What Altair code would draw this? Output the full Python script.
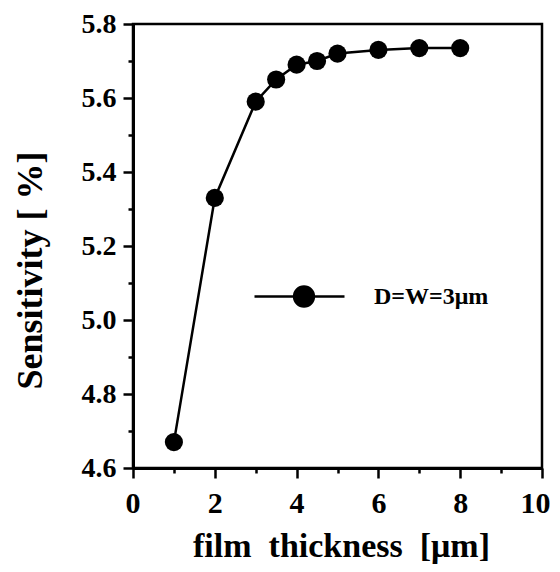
import altair as alt
import pandas as pd

# ---- data ----
thickness = [1, 2, 3, 3.5, 4, 4.5, 5, 6, 7, 8]
sensitivity = [4.67, 5.33, 5.59, 5.65, 5.69, 5.70, 5.72, 5.73, 5.735, 5.735]
series_name = "D=W=3μm"
x_major = [0, 2, 4, 6, 8, 10]
x_minor = [1, 3, 5, 7, 9]
y_major = [4.6, 4.8, 5.0, 5.2, 5.4, 5.6, 5.8]
y_minor = [4.7, 4.9, 5.1, 5.3, 5.5, 5.7]
x_title = "film\u00a0\u00a0thickness\u00a0\u00a0[μm]"
y_title = "Sensitivity [ %]"

df = pd.DataFrame({
    "thickness": thickness,
    "sensitivity": sensitivity,
    "series": [series_name] * len(thickness),
})

FONT = "Liberation Serif"

label_style = dict(
    labelFont=FONT, labelFontWeight="bold", labelColor="black",
    labelOverlap=False, labelBound=False,
    titleFont=FONT, titleFontWeight="bold", titleColor="black",
    domainColor="black", domainWidth=3,
    ticks=False, grid=False,
)

# axes carrying labels, titles and the axis lines
x_axis = alt.Axis(
    values=x_major, format="d", title=x_title, titleFontSize=34,
    labelFontSize=30, labelPadding=20,
    labelFlush=True, labelFlushOffset=8,
    titleX=208, titleY=88, titleBaseline="alphabetic", titleAlign="center",
    **label_style,
)
y_axis = alt.Axis(
    values=y_major, format=".1f", title=y_title, titleFontSize=36,
    labelFontSize=28, labelPadding=17,
    titleAngle=-90, titleX=-103, titleY=246, titleBaseline="middle", titleAlign="center",
    **label_style,
)


def tick_axis(vals, orient, size):
    return alt.Axis(
        values=vals, orient=orient, labels=False, domain=False, title=None,
        ticks=True, tickSize=size, tickColor="black", tickWidth=2.5, grid=False,
    )


x_scale = alt.Scale(domain=[0, 10], nice=False)
y_scale = alt.Scale(domain=[4.6, 5.8], nice=False, zero=False)

base = alt.Chart(df)

line = base.mark_line(color="black", strokeWidth=2.5).encode(
    x=alt.X("thickness:Q", scale=x_scale, axis=x_axis),
    y=alt.Y("sensitivity:Q", scale=y_scale, axis=y_axis),
)

legend_symbol = "M-1,0L1,0M-0.12,0A0.22,0.22,0,1,0,0.32,0A0.22,0.22,0,1,0,-0.12,0Z"

points = base.mark_circle(size=330, opacity=1).encode(
    x=alt.X("thickness:Q", scale=x_scale, axis=tick_axis(x_minor, "bottom", 5)),
    y=alt.Y("sensitivity:Q", scale=y_scale, axis=tick_axis(y_minor, "left", 5)),
    color=alt.Color(
        "series:N",
        scale=alt.Scale(domain=[series_name], range=["black"]),
        legend=alt.Legend(
            title=None, orient="none", legendX=120, legendY=226,
            symbolType=legend_symbol, symbolSize=8100,
            symbolStrokeColor="black", symbolStrokeWidth=2.5, symbolFillColor="black",
            labelFont=FONT, labelFontSize=24, labelFontWeight="bold", labelColor="black",
            labelOffset=28, padding=0,
        ),
    ),
)

major_ticks = base.mark_point(opacity=0).encode(
    x=alt.X("thickness:Q", scale=x_scale, axis=tick_axis(x_major, "bottom", 10)),
    y=alt.Y("sensitivity:Q", scale=y_scale, axis=tick_axis(y_major, "left", 10)),
)

chart = alt.layer(line, points, major_ticks).resolve_scale(
    x="shared", y="shared"
).resolve_axis(
    x="independent", y="independent"
).properties(
    width=409, height=444,
    background="white",
    autosize=alt.AutoSizeParams(type="none"),
    padding={"left": 125, "top": 16, "right": 10, "bottom": 96},
).configure_view(
    stroke="black", strokeWidth=2.5
)

chart.save("out.html", embed_options={"renderer": "svg", "actions": False})
